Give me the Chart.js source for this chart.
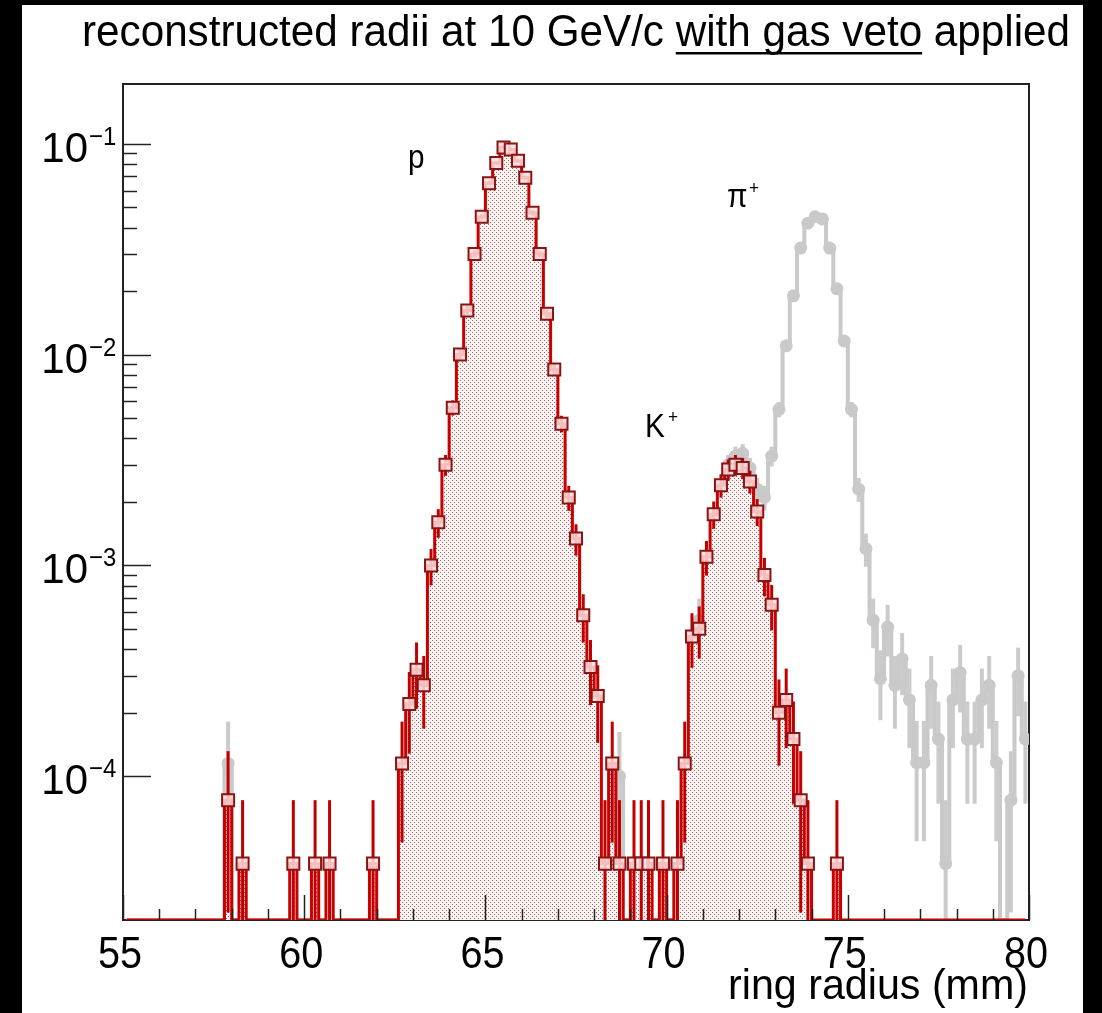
<!DOCTYPE html>
<html>
<head>
<meta charset="utf-8">
<title>reconstructed radii at 10 GeV/c</title>
<script src="https://cdn.jsdelivr.net/npm/chart.js@4.4.0/dist/chart.umd.min.js"></script>
<style>
  html, body { margin: 0; padding: 0; background: #000; }
  #chart { display: block; }
</style>
</head>
<body>
<canvas id="chart" width="1102" height="1013"></canvas>
<script>
// Ring radius histograms, 0.2 mm bins from 55 to 80 mm
const X_MIN = 55, X_MAX = 80, BIN_WIDTH = 0.2;
const Y_MIN = 2.08e-5, Y_MAX = 0.192;
const ENTRY = 3.85e-5;   // height of a single entry (used for the poisson error bars)

// red: with gas veto (non-empty bins only)
const vetoCenters = [57.9, 58.3, 59.7, 60.3, 60.7, 61.9,
  62.7, 62.9, 63.1, 63.3, 63.5, 63.7, 63.9, 64.1, 64.3, 64.5, 64.7, 64.9, 65.1, 65.3,
  65.5, 65.7, 65.9, 66.1, 66.3, 66.5, 66.7, 66.9, 67.1, 67.3, 67.5, 67.7, 67.9, 68.1,
  68.3, 68.5, 68.7, 69.1, 69.3, 69.5, 69.9, 70.3,
  70.5, 70.7, 70.9, 71.1, 71.3, 71.5, 71.7, 71.9, 72.1, 72.3, 72.5, 72.7, 72.9, 73.1,
  73.3, 73.5, 73.7, 73.9, 74.7];
const vetoValues = [7.7e-5, 3.85e-5, 3.85e-5, 3.85e-5, 3.85e-5, 3.85e-5,
  1.15e-4, 2.2e-4, 3.2e-4, 2.7e-4, 1.0e-3, 1.6e-3, 3.0e-3, 5.6e-3, 1.0e-2, 0.0162, 0.030, 0.045, 0.065, 0.081,
  0.096, 0.094, 0.083, 0.069, 0.047, 0.030, 0.0156, 8.5e-3, 4.7e-3, 2.1e-3, 1.34e-3, 5.8e-4, 3.3e-4, 2.4e-4,
  3.85e-5, 1.15e-4, 3.85e-5, 3.85e-5, 3.85e-5, 3.85e-5, 3.85e-5, 3.85e-5,
  1.15e-4, 4.6e-4, 5.0e-4, 1.1e-3, 1.75e-3, 2.4e-3, 2.85e-3, 3.0e-3, 2.9e-3, 2.5e-3, 1.8e-3, 9.0e-4, 6.5e-4, 2.0e-4,
  2.3e-4, 1.5e-4, 7.7e-5, 3.85e-5, 3.85e-5];

// grey: reference sample, visible bins
const allCenters = [57.9, 68.7, 70.9,
  71.7, 71.9, 72.1, 72.3, 72.5, 72.7, 72.9, 73.1, 73.3, 73.5, 73.7, 73.9, 74.1, 74.3, 74.5,
  74.7, 74.9, 75.1, 75.3, 75.5, 75.7, 75.9, 76.1, 76.3, 76.5, 76.7, 76.9, 77.1, 77.3, 77.5,
  77.7, 77.9, 78.1, 78.3, 78.5, 78.7, 78.9, 79.1, 79.5, 79.7, 79.9];
const allValues = [1.15e-4, 1.0e-4, 5.5e-4,
  3.0e-3, 3.3e-3, 3.4e-3, 2.9e-3, 2.3e-3, 2.1e-3, 3.3e-3, 5.5e-3, 0.011, 0.019, 0.032, 0.042, 0.045, 0.044, 0.032,
  0.0205, 0.0116, 5.5e-3, 2.3e-3, 1.2e-3, 5.5e-4, 2.9e-4, 5.1e-4, 2.7e-4, 3.6e-4, 2.3e-4, 1.16e-4, 1.16e-4, 2.7e-4, 1.5e-4,
  3.85e-5, 2.3e-4, 3.1e-4, 1.5e-4, 1.5e-4, 2.3e-4, 2.7e-4, 1.16e-4, 7.7e-5, 3.0e-4, 1.5e-4];

const xTicks = [55, 60, 65, 70, 75, 80];
const yDecades = [-4, -3, -2, -1];

const FONT = '"Liberation Sans", Arial, Helvetica, sans-serif';

// bin centres of the full histogram
const binCenters = [];
for (let i = 0; i < Math.round((X_MAX - X_MIN) / BIN_WIDTH); i++) {
  binCenters.push(+(X_MIN + BIN_WIDTH * (i + 0.5)).toFixed(1));
}

function fillBins(centers, values) {
  return binCenters.map(c => {
    const j = centers.indexOf(c);
    return j < 0 ? 0 : values[j];
  });
}

function toPoints(vals) {
  // empty bins sit on the bottom of the frame, like ROOT draws them
  return binCenters.map((c, i) => ({ x: c, y: vals[i] > 0 ? vals[i] : Y_MIN }));
}

function dotPattern() {
  const c = document.createElement('canvas');
  c.width = 4; c.height = 4;
  const g = c.getContext('2d');
  g.fillStyle = '#fcf3f3';
  g.fillRect(0, 0, 4, 4);
  g.fillStyle = '#9a6464';
  g.fillRect(0, 0, 1, 1);
  g.fillRect(2, 2, 1, 1);
  return g.createPattern(c, 'repeat');
}

// text squeezed horizontally like the original image
function squeezedText(ctx, text, x, y, font, sx, align) {
  ctx.save();
  ctx.font = font;
  const w = ctx.measureText(text).width * sx;
  const left = align === 'right' ? x - w : align === 'center' ? x - w / 2 : x;
  ctx.translate(left, y);
  ctx.scale(sx, 1);
  ctx.textAlign = 'left';
  ctx.fillText(text, 0, 0);
  ctx.restore();
  return w;
}

// scale factor so that a text fills a given width
function fitScale(ctx, text, font, width) {
  ctx.save();
  ctx.font = font;
  const s = width / ctx.measureText(text).width;
  ctx.restore();
  return s;
}

const vetoBins = fillBins(vetoCenters, vetoValues);
const allBins = fillBins(allCenters, allValues);

const background = {
  id: 'background',
  beforeDraw(chart) {
    const ctx = chart.ctx;
    ctx.save();
    ctx.fillStyle = '#000';
    ctx.fillRect(0, 0, chart.width, chart.height);
    ctx.fillStyle = '#fff';
    ctx.fillRect(22, 5, 1061, 1008);
    ctx.restore();
  },
  beforeDatasetsDraw(chart) {
    const { ctx, chartArea: a } = chart;
    ctx.save();
    ctx.strokeStyle = '#222';
    ctx.lineWidth = 2;
    ctx.strokeRect(a.left, a.top, a.right - a.left, a.bottom - a.top);
    ctx.restore();
  }
};

const errorBars = {
  id: 'errorBars',
  beforeDatasetDraw(chart, args) {
    const ds = chart.data.datasets[args.index];
    if (!ds.errorColor) return;
    const { ctx, chartArea: a, scales: { x, y } } = chart;
    ctx.save();
    ctx.beginPath();
    ctx.rect(a.left, a.top, a.right - a.left, a.bottom - a.top);
    ctx.clip();
    ctx.strokeStyle = ds.errorColor;
    ctx.lineWidth = ds.errorWidth;
    ds.values.forEach((v, i) => {
      if (!(v > 0)) return;
      const err = Math.sqrt(v * ENTRY);
      const px = x.getPixelForValue(binCenters[i]);
      ctx.beginPath();
      ctx.moveTo(px, y.getPixelForValue(Math.max(v - err, Y_MIN)));
      ctx.lineTo(px, y.getPixelForValue(v + err));
      ctx.stroke();
    });
    ctx.restore();
  }
};

const axesAndText = {
  id: 'axesAndText',
  afterDatasetsDraw(chart) {
    const { ctx, chartArea: a, scales: { x, y } } = chart;
    ctx.save();
    ctx.strokeStyle = '#222';
    ctx.lineWidth = 1.5;
    // y ticks (inside the frame)
    yDecades.forEach(k => {
      for (let m = 1; m <= 9; m++) {
        const v = m * Math.pow(10, k);
        if (v < Y_MIN || v > Y_MAX) continue;
        const py = Math.round(y.getPixelForValue(v)) + 0.5;
        ctx.beginPath();
        ctx.moveTo(a.left, py);
        ctx.lineTo(a.left + (m === 1 ? 28 : 14), py);
        ctx.stroke();
      }
    });
    // x ticks
    for (let t = X_MIN; t <= X_MAX; t++) {
      const px = Math.round(x.getPixelForValue(t)) + 0.5;
      ctx.beginPath();
      ctx.moveTo(px, a.bottom);
      ctx.lineTo(px, a.bottom - (t % 5 === 0 ? 25 : 11));
      ctx.stroke();
    }
    ctx.restore();
  },
  afterDraw(chart) {
    const { ctx, scales: { x, y } } = chart;
    ctx.save();
    ctx.fillStyle = '#000';

    // title, underline under "with gas veto"
    const pre = 'reconstructed radii at 10 GeV/c ';
    const mid = 'with gas veto';
    const title = pre + mid + ' applied';
    const tFont = '44px ' + FONT;
    const sx = fitScale(ctx, title, tFont, 988);
    squeezedText(ctx, title, 82, 46, tFont, sx, 'left');
    ctx.font = tFont;
    const u0 = ctx.measureText(pre).width * sx;
    const u1 = u0 + ctx.measureText(mid).width * sx;
    ctx.fillRect(82 + u0, 52, u1 - u0, 2.5);

    // y labels 10^k
    yDecades.forEach(k => {
      const py = y.getPixelForValue(Math.pow(10, k));
      squeezedText(ctx, '10', 88, py + 18, '42px ' + FONT, 1, 'right');
      squeezedText(ctx, '\u2212' + Math.abs(k), 89, py + 1, '26px ' + FONT, 0.92, 'left');
    });

    // x labels
    xTicks.forEach(t => squeezedText(ctx, String(t), x.getPixelForValue(t) - 3, 968, '44px ' + FONT, 0.9, 'center'));

    // axis title
    const aFont = '42px ' + FONT;
    squeezedText(ctx, 'ring radius (mm)', 1028, 999, aFont, fitScale(ctx, 'ring radius (mm)', aFont, 300), 'right');

    // particle labels
    squeezedText(ctx, 'p', 408, 168, '33px ' + FONT, 0.9, 'left');
    squeezedText(ctx, '\u03c0', 727, 207, '33px ' + FONT, 0.9, 'left');
    squeezedText(ctx, 'K', 645, 437, '33px ' + FONT, 0.9, 'left');
    squeezedText(ctx, '+', 749, 194, '19px ' + FONT, 0.9, 'left');
    squeezedText(ctx, '+', 668, 423, '19px ' + FONT, 0.9, 'left');
    ctx.restore();
  }
};

new Chart(document.getElementById('chart'), {
  type: 'line',
  data: {
    datasets: [
      {
        label: 'all',
        data: toPoints(allBins),
        values: allBins,
        order: 1,
        stepped: 'middle',
        borderColor: '#c9c9c9',
        borderWidth: 4,
        fill: false,
        pointStyle: 'circle',
        pointRadius: allBins.map(v => v > 0 ? 6.5 : 0),
        pointBackgroundColor: '#c9c9c9',
        pointBorderColor: '#c9c9c9',
        pointBorderWidth: 0,
        errorColor: '#cbcbcb',
        errorWidth: 4
      },
      {
        label: 'with gas veto',
        data: toPoints(vetoBins),
        values: vetoBins,
        order: 0,
        stepped: 'middle',
        borderColor: '#c80000',
        borderWidth: 3,
        fill: 'start',
        backgroundColor: dotPattern(),
        pointStyle: 'rect',
        pointRadius: vetoBins.map(v => v > 0 ? 8.5 : 0),
        pointBackgroundColor: 'rgba(255, 222, 222, 0.85)',
        pointBorderColor: '#8a1414',
        pointBorderWidth: 2,
        errorColor: '#c00000',
        errorWidth: 3
      }
    ]
  },
  options: {
    responsive: false,
    animation: false,
    devicePixelRatio: 1,
    layout: { padding: { left: 123, right: 73, top: 84, bottom: 93 } },
    plugins: { legend: { display: false }, tooltip: { enabled: false } },
    scales: {
      x: { type: 'linear', min: X_MIN, max: X_MAX, display: false },
      y: { type: 'logarithmic', min: Y_MIN, max: Y_MAX, display: false }
    }
  },
  plugins: [background, errorBars, axesAndText]
});
</script>
</body>
</html>
